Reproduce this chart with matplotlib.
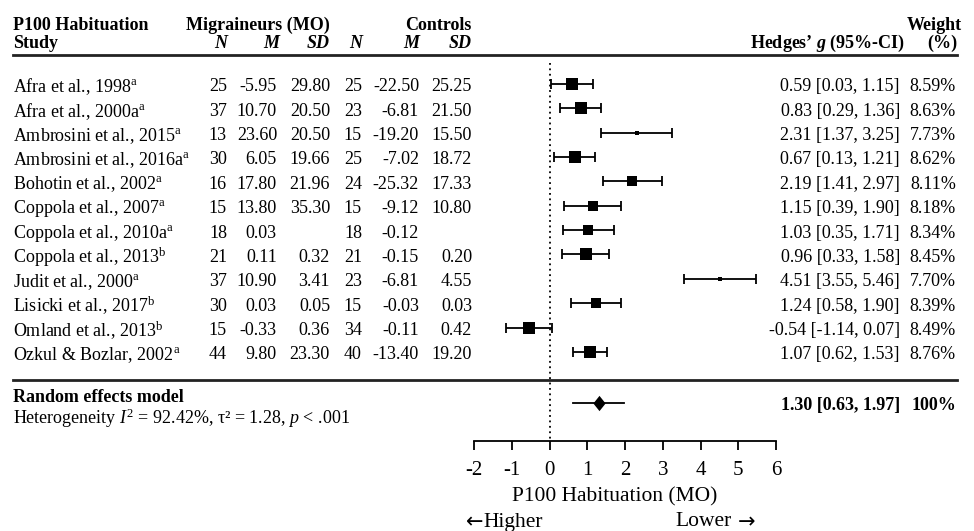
import matplotlib
matplotlib.use('Agg')
import matplotlib.pyplot as plt
from matplotlib import transforms
from matplotlib.lines import Line2D

plt.rcParams['font.family'] = ['Liberation Serif', 'DejaVu Serif']
plt.rcParams['mathtext.fontset'] = 'custom'
plt.rcParams['mathtext.rm'] = 'Liberation Serif'
plt.rcParams['mathtext.it'] = 'Liberation Serif:italic'
plt.rcParams['mathtext.bf'] = 'Liberation Serif:bold'
plt.rcParams['mathtext.bfit'] = 'Liberation Serif:italic:bold'

# ---------------- data ----------------
studies = ["Afra et al., 1998", "Afra et al., 2000a", "Ambrosini et al., 2015",
           "Ambrosini et al., 2016a", "Bohotin et al., 2002", "Coppola et al., 2007",
           "Coppola et al., 2010a", "Coppola et al., 2013", "Judit et al., 2000",
           "Lisicki et al., 2017", "Omland et al., 2013", "Ozkul & Bozlar, 2002"]
notes = ["a", "a", "a", "a", "a", "a", "a", "b", "a", "b", "b", "a"]
mo_n = ["25", "37", "13", "30", "16", "15", "18", "21", "37", "30", "15", "44"]
mo_m = ["-5.95", "10.70", "23.60", "6.05", "17.80", "13.80", "0.03", "0.11", "10.90", "0.03", "-0.33", "9.80"]
mo_sd = ["29.80", "20.50", "20.50", "19.66", "21.96", "35.30", "", "0.32", "3.41", "0.05", "0.36", "23.30"]
ct_n = ["25", "23", "15", "25", "24", "15", "18", "21", "23", "15", "34", "40"]
ct_m = ["-22.50", "-6.81", "-19.20", "-7.02", "-25.32", "-9.12", "-0.12", "-0.15", "-6.81", "-0.03", "-0.11", "-13.40"]
ct_sd = ["25.25", "21.50", "15.50", "18.72", "17.33", "10.80", "", "0.20", "4.55", "0.03", "0.42", "19.20"]
g = [0.59, 0.83, 2.31, 0.67, 2.19, 1.15, 1.03, 0.96, 4.51, 1.24, -0.54, 1.07]
lo = [0.03, 0.29, 1.37, 0.13, 1.41, 0.39, 0.35, 0.33, 3.55, 0.58, -1.14, 0.62]
hi = [1.15, 1.36, 3.25, 1.21, 2.97, 1.90, 1.71, 1.58, 5.46, 1.90, 0.07, 1.53]
weight = [8.59, 8.63, 7.73, 8.62, 8.11, 8.18, 8.34, 8.45, 7.70, 8.39, 8.49, 8.76]
pooled_g, pooled_lo, pooled_hi = 1.30, 0.63, 1.97
xticks = [-2, -1, 0, 1, 2, 3, 4, 5, 6]
x_label = "P100 Habituation (MO)"

# ---------------- layout helpers ----------------
W, H = 974, 531
fig = plt.figure(figsize=(W / 100, H / 100), dpi=100)

def fx(px):
    return px / W

def fy(py):
    return 1 - py / H

row0, step = 84.0, 24.35
def row_of(py):
    return (py - row0) / step

ax_top, ax_bot = 63, 441
ax = fig.add_axes([fx(474), fy(ax_bot), fx(776) - fx(474), fy(ax_top) - fy(ax_bot)])
ax.set_xlim(-2, 6)
ax.set_ylim(row_of(ax_bot), row_of(ax_top))
for s in ['left', 'right', 'top']:
    ax.spines[s].set_visible(False)
ax.spines['bottom'].set_linewidth(1.3)
ax.set_yticks([])
ax.set_xticks(xticks)
ax.set_xticklabels([str(t) for t in xticks], fontsize=15)
ax.tick_params(axis='x', direction='out', length=6.5, width=1.3, pad=8)
ax.patch.set_visible(False)

# reference line
ax.plot([0, 0], [row_of(ax_top), row_of(ax_bot)], ls=(0, (1, 2)), lw=1.3, color='k', clip_on=False)

# study CIs and squares
w_min = min(weight)
for i in range(len(studies)):
    ax.errorbar(g[i], i, xerr=[[g[i] - lo[i]], [hi[i] - g[i]]], fmt='none',
                ecolor='k', elinewidth=1.3, capsize=3.6, capthick=1.3, clip_on=False)
    side_px = 3.3 + 9.0 * (weight[i] - w_min) ** 0.5
    ax.plot(g[i], i, marker='s', ms=side_px * 0.72, color='k', mec='k', mew=0, clip_on=False)

# pooled
y_sum = row_of(403)
ax.plot([pooled_lo, pooled_hi], [y_sum, y_sum], color='k', lw=1.3, clip_on=False)
ax.plot(pooled_g, y_sum, marker=[(0, 1), (0.8, 0), (0, -1), (-0.8, 0), (0, 1)],
        ms=11, color='k', mew=0, clip_on=False)

# ---------------- table text ----------------
fs = 13
tr = transforms.blended_transform_factory(fig.transFigure, ax.transData)
cols = [(227, mo_n), (277, mo_m), (330, mo_sd), (362, ct_n), (419, ct_m), (472, ct_sd)]
for i in range(len(studies)):
    yv = i + 0.12
    fig.text(fx(13), yv, studies[i] + r"$^{\mathrm{%s}}$" % notes[i], transform=tr,
             ha='left', va='center', fontsize=fs)
    for xr, col in cols:
        fig.text(fx(xr), yv, col[i], transform=tr, ha='right', va='center', fontsize=fs)
    fig.text(fx(900), yv, f"{g[i]:.2f} [{lo[i]:.2f}, {hi[i]:.2f}]", transform=tr,
             ha='right', va='center', fontsize=fs)
    fig.text(fx(956), yv, f"{weight[i]:.2f}%", transform=tr, ha='right', va='center', fontsize=fs)

# headers
fig.text(fx(13), fy(25), "P100 Habituation", ha='left', va='center', fontsize=fs, fontweight='bold')
fig.text(fx(13), fy(43), "Study", ha='left', va='center', fontsize=fs, fontweight='bold')
fig.text(fx(330), fy(25), "Migraineurs (MO)", ha='right', va='center', fontsize=fs, fontweight='bold')
fig.text(fx(472), fy(25), "Controls", ha='right', va='center', fontsize=fs, fontweight='bold')
for xr, lab in [(227, "N"), (279, "M"), (330, "SD"), (362, "N"), (419, "M"), (472, "SD")]:
    fig.text(fx(xr), fy(43), lab, ha='right', va='center', fontsize=fs,
             fontweight='bold', fontstyle='italic')
fig.text(fx(962), fy(25), "Weight", ha='right', va='center', fontsize=fs, fontweight='bold')
fig.text(fx(957), fy(43), "(%)", ha='right', va='center', fontsize=fs, fontweight='bold')
fig.text(fx(905), fy(43), r"Hedges’ $\mathbfit{g}$ (95%-CI)", ha='right', va='center',
         fontsize=fs, fontweight='bold')

# separator lines
for py in (55, 380):
    fig.add_artist(Line2D([fx(13), fx(957)], [fy(py), fy(py)], transform=fig.transFigure,
                          color='#222222', lw=2))

# summary rows
fig.text(fx(13), fy(398), "Random effects model", ha='left', va='center', fontsize=fs, fontweight='bold')
fig.text(fx(13), fy(418), r"Heterogeneity $I^2$ = 92.42%, τ² = 1.28, $p$ < .001",
         ha='left', va='center', fontsize=fs)
fig.text(fx(900), y_sum + 0.12, f"{pooled_g:.2f} [{pooled_lo:.2f}, {pooled_hi:.2f}]", transform=tr,
         ha='right', va='center', fontsize=fs, fontweight='bold')
fig.text(fx(956), y_sum + 0.12, "100%", transform=tr, ha='right', va='center', fontsize=fs, fontweight='bold')

# axis label and direction
fs2 = 15.5
fig.text(fx(615), fy(497), x_label, ha='center', va='center', fontsize=fs2)
fig.text(fx(466), fy(522), "←", ha='left', va='center', fontsize=15, family=['DejaVu Sans'])
fig.text(fx(483), fy(522), "Higher", ha='left', va='center', fontsize=fs2)
fig.text(fx(732), fy(522), "Lower", ha='right', va='center', fontsize=fs2)
fig.text(fx(738), fy(522), "→", ha='left', va='center', fontsize=15, family=['DejaVu Sans'])

fig.savefig("out.png", dpi=100)
